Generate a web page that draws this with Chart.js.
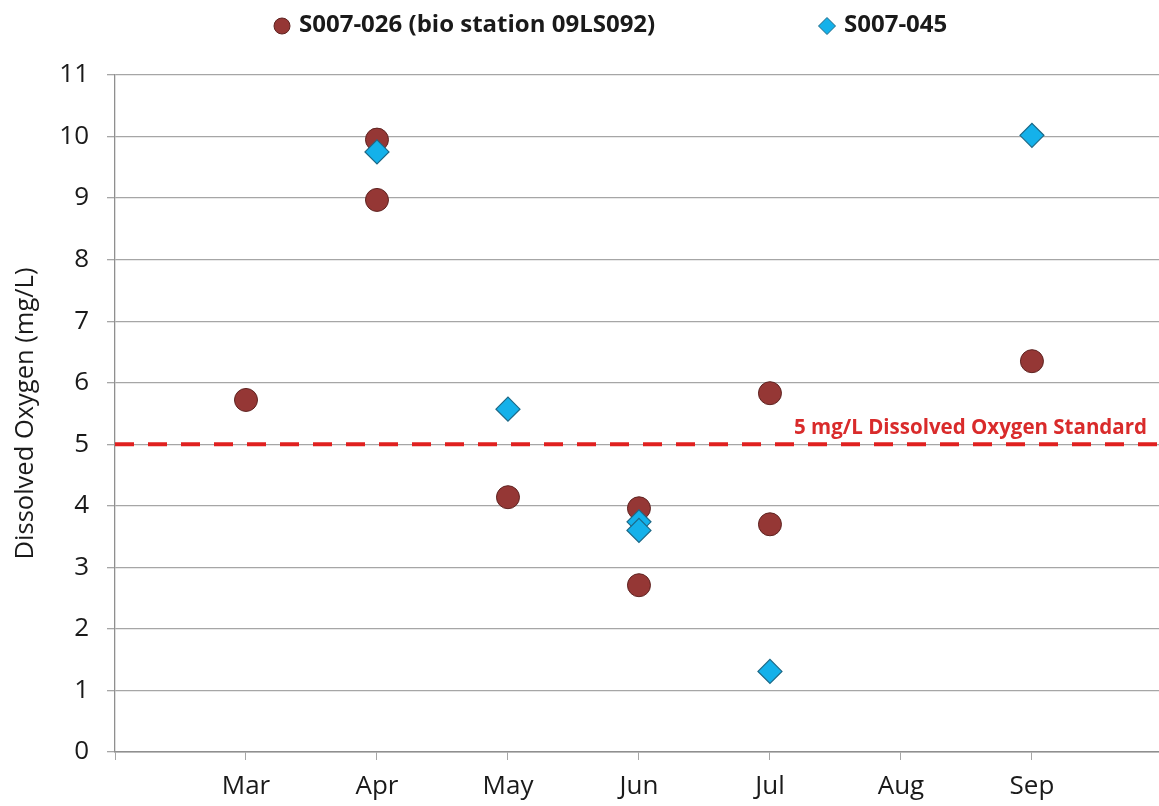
<!DOCTYPE html>
<html>
<head>
<meta charset="utf-8">
<script src="https://cdn.jsdelivr.net/npm/chart.js@4.4.1/dist/chart.umd.min.js"></script>
<style>
  html, body { margin: 0; padding: 0; background: #fff; overflow: hidden; }
  #wrap { width: 1159px; height: 806px; position: relative; }
  #ch { display: block; }
</style>
</head>
<body>
<div id="wrap"><canvas id="ch"></canvas></div>
<script>
/* Dissolved oxygen scatter, two stations, with 5 mg/L standard line. */
var MONTHS = ["Mar", "Apr", "May", "Jun", "Jul", "Aug", "Sep"];   // tick labels at x = 1..7

var S026_NAME = "S007-026 (bio station 09LS092)";
var S026_MONTH = ["Mar", "Apr", "Apr", "May", "Jun", "Jun", "Jul", "Jul", "Sep"];
var S026_DO = [5.72, 9.95, 8.97, 4.14, 3.96, 2.71, 5.83, 3.70, 6.35];

var S045_NAME = "S007-045";
var S045_MONTH = ["Apr", "May", "Jun", "Jun", "Jul", "Sep"];
var S045_DO = [9.75, 5.57, 3.74, 3.60, 1.31, 10.02];

var STANDARD = 5;
var STANDARD_LABEL = "5 mg/L Dissolved Oxygen Standard";
var X_RANGE = [0, 7.97];

var BROWN = "#953735", BROWN_EDGE = "#5e2321",
    BLUE = "#14b1ea", BLUE_EDGE = "#1d6886",
    RED = "#e0201f", LABEL_RED = "#d92b2b", GRID = "#a6a6a6", AXIS = "#8f8f8f", INK = "#1a1a1a";
var FONT = "'Open Sans', 'Noto Sans', sans-serif";

function pts(months, vals) {
  return vals.map(function (v, i) { return { x: MONTHS.indexOf(months[i]) + 1, y: v }; });
}

// custom legend across the top + label for the standard line
var extras = {
  id: "extras",
  afterDraw: function (chart) {
    var ctx = chart.ctx, H = Chart.helpers;
    var items = [{ ds: chart.data.datasets[1], x: 282 }, { ds: chart.data.datasets[0], x: 827 }];
    ctx.save();
    ctx.font = "bold 24px " + FONT;
    ctx.textBaseline = "middle";
    ctx.textAlign = "left";
    items.forEach(function (it) {
      var d = it.ds;
      ctx.fillStyle = d.backgroundColor;
      ctx.strokeStyle = d.borderColor;
      ctx.lineWidth = 1;
      H.drawPoint(ctx, { pointStyle: d.pointStyle, radius: d.pointStyle === "circle" ? 8 : 8.5, borderWidth: 1, rotation: 0 }, it.x, 26);
      ctx.fillStyle = INK;
      ctx.fillText(d.label, it.x + 17, 25);
    });
    var y = chart.scales.y.getPixelForValue(STANDARD);
    ctx.font = "bold 20.5px " + FONT;
    ctx.fillStyle = LABEL_RED;
    ctx.textAlign = "right";
    ctx.textBaseline = "alphabetic";
    ctx.fillText(STANDARD_LABEL, chart.chartArea.right - 12, y - 10);
    ctx.restore();
  }
};

new Chart(document.getElementById("ch"), {
  type: "scatter",
  data: {
    datasets: [
      {
        label: S045_NAME, data: pts(S045_MONTH, S045_DO), order: 1,
        pointStyle: "rectRot", pointRadius: 12, pointHoverRadius: 12,
        backgroundColor: BLUE, borderColor: BLUE_EDGE, borderWidth: 1.2
      },
      {
        label: S026_NAME, data: pts(S026_MONTH, S026_DO), order: 2,
        pointStyle: "circle", pointRadius: 11.5, pointHoverRadius: 11.5,
        backgroundColor: BROWN, borderColor: BROWN_EDGE, borderWidth: 1
      },
      {
        type: "line", label: STANDARD_LABEL, order: 3,
        data: [{ x: X_RANGE[0], y: STANDARD }, { x: X_RANGE[1], y: STANDARD }],
        borderColor: RED, borderWidth: 4, borderDash: [19, 14], pointRadius: 0, fill: false
      }
    ]
  },
  options: {
    responsive: true, maintainAspectRatio: false, animation: false,
    layout: { autoPadding: false, padding: { top: 75, right: 0, bottom: 0, left: 0 } },
    plugins: { legend: { display: false }, tooltip: { enabled: false } },
    scales: {
      x: {
        type: "linear", min: X_RANGE[0], max: X_RANGE[1],
        afterBuildTicks: function (s) { s.ticks = s.ticks.filter(function (t) { return t.value % 1 === 0 && t.value < 7.5; }); },
        afterFit: function (s) { s.height = 54; },
        grid: { display: true, drawOnChartArea: false, color: GRID, tickLength: 8 },
        border: { color: AXIS, width: 1.5 },
        ticks: {
          stepSize: 1, autoSkip: false, maxRotation: 0, padding: 11,
          color: INK, font: { family: FONT, size: 26 },
          callback: function (v) { return MONTHS[v - 1] || ""; }
        }
      },
      y: {
        min: 0, max: 11,
        afterFit: function (s) { s.width = 115; },
        grid: { color: GRID, lineWidth: 1.3, tickLength: 8 },
        border: { color: AXIS, width: 1.3 },
        ticks: { stepSize: 1, padding: 18, color: INK, font: { family: FONT, size: 26 } },
        title: {
          display: true, text: "Dissolved Oxygen (mg/L)", color: INK,
          font: { family: FONT, size: 25.5 }, padding: { top: 10, bottom: 0 }
        }
      }
    }
  },
  plugins: [extras]
});
</script>
</body>
</html>
